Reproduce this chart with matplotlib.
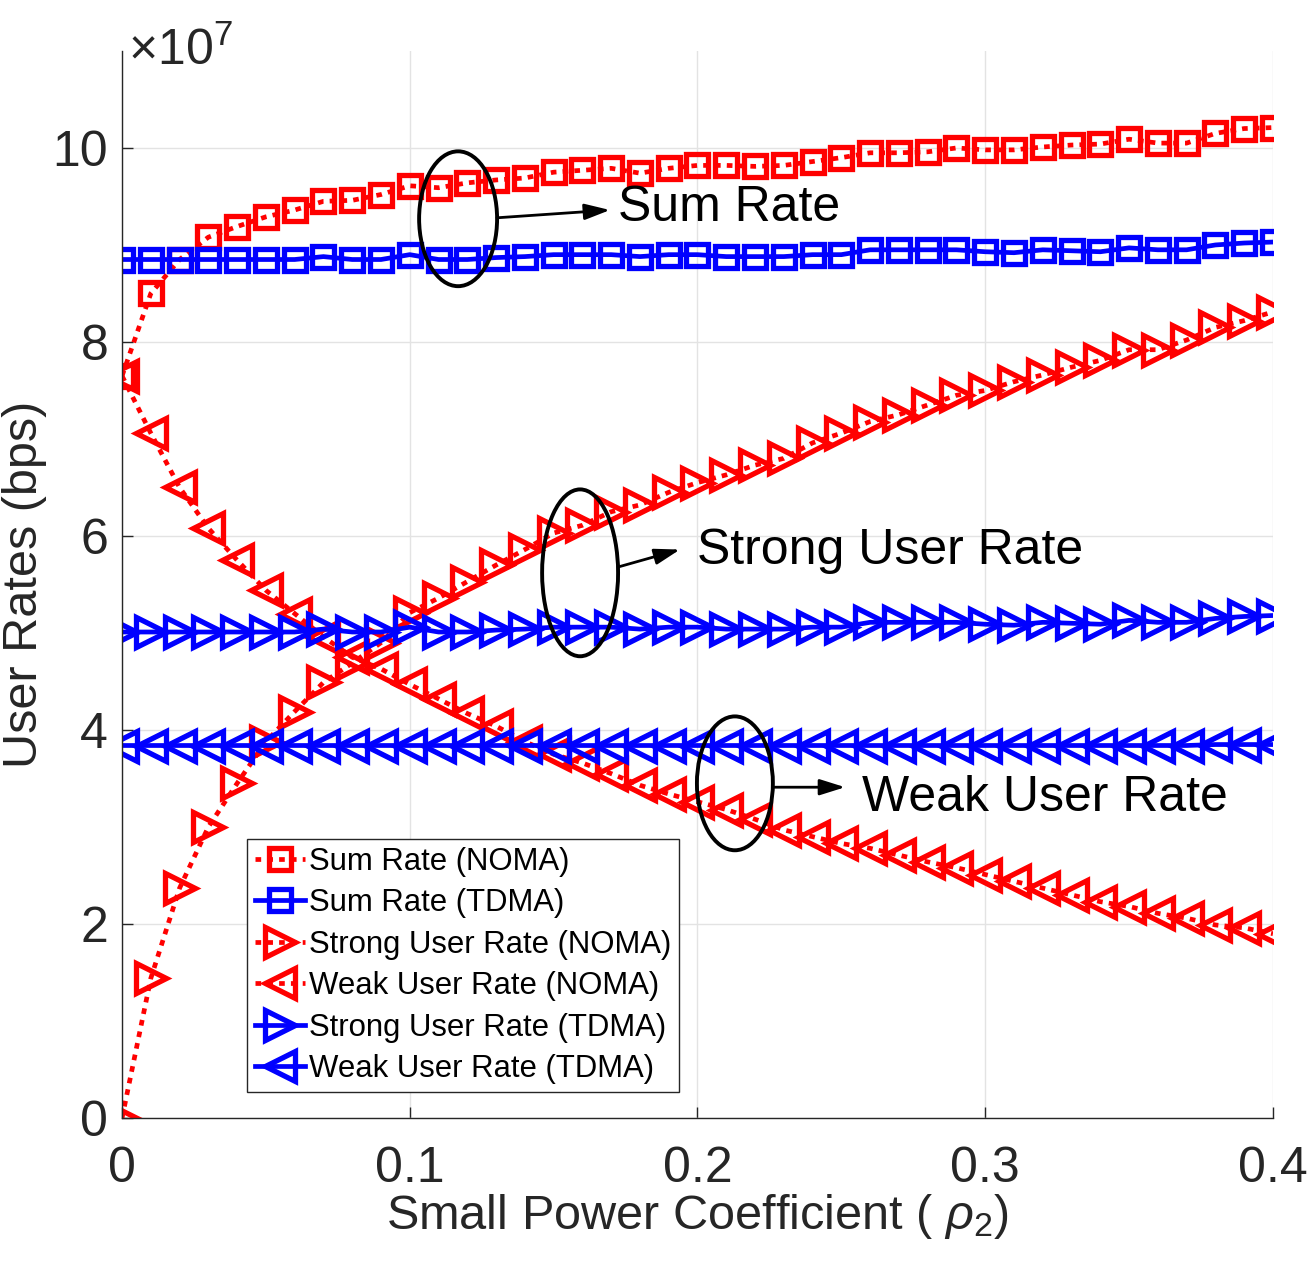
import numpy as np
import matplotlib
matplotlib.use("Agg")
import matplotlib.pyplot as plt
from matplotlib.patches import Ellipse

plt.rcParams["font.family"] = ["Liberation Sans", "DejaVu Sans"]
plt.rcParams["mathtext.fontset"] = "custom"
plt.rcParams["mathtext.rm"] = "Liberation Sans"
plt.rcParams["mathtext.it"] = "Liberation Sans:italic"

# x grid: small power coefficient rho_2
rho2 = [0.00, 0.01, 0.02, 0.03, 0.04, 0.05, 0.06, 0.07, 0.08, 0.09,
        0.10, 0.11, 0.12, 0.13, 0.14, 0.15, 0.16, 0.17, 0.18, 0.19,
        0.20, 0.21, 0.22, 0.23, 0.24, 0.25, 0.26, 0.27, 0.28, 0.29,
        0.30, 0.31, 0.32, 0.33, 0.34, 0.35, 0.36, 0.37, 0.38, 0.39, 0.40]

# rates in units of 1e7 bps
sum_noma = [7.65, 8.50, 8.85, 9.08, 9.19, 9.29, 9.36, 9.45, 9.46, 9.52,
            9.61, 9.59, 9.64, 9.67, 9.69, 9.75, 9.77, 9.79, 9.74, 9.79,
            9.82, 9.82, 9.81, 9.82, 9.86, 9.90, 9.95, 9.95, 9.96, 10.00,
            9.98, 9.98, 10.01, 10.03, 10.04, 10.09, 10.05, 10.05, 10.15, 10.20, 10.21]
sum_tdma = [8.85, 8.85, 8.85, 8.85, 8.85, 8.85, 8.85, 8.88, 8.85, 8.85,
            8.90, 8.85, 8.85, 8.87, 8.88, 8.90, 8.90, 8.90, 8.88, 8.90,
            8.90, 8.88, 8.88, 8.88, 8.90, 8.90, 8.95, 8.95, 8.95, 8.95,
            8.93, 8.92, 8.95, 8.94, 8.93, 8.97, 8.95, 8.95, 9.00, 9.02, 9.03]
strong_noma = [0.00, 1.44, 2.37, 3.00, 3.45, 3.88, 4.19, 4.49, 4.69, 4.90,
               5.21, 5.36, 5.53, 5.70, 5.86, 6.03, 6.11, 6.25, 6.32, 6.45,
               6.55, 6.63, 6.73, 6.80, 6.96, 7.06, 7.18, 7.25, 7.35, 7.45,
               7.50, 7.59, 7.66, 7.74, 7.81, 7.92, 7.92, 8.02, 8.15, 8.22, 8.31]
weak_noma = [7.65, 7.06, 6.50, 6.08, 5.75, 5.44, 5.20, 4.96, 4.75, 4.63,
             4.47, 4.32, 4.17, 4.04, 3.88, 3.75, 3.66, 3.55, 3.43, 3.34,
             3.26, 3.18, 3.08, 2.97, 2.90, 2.83, 2.78, 2.71, 2.64, 2.58,
             2.51, 2.44, 2.37, 2.30, 2.23, 2.18, 2.11, 2.06, 1.99, 1.96, 1.90]
strong_tdma = [5.01, 5.01, 5.01, 5.01, 5.01, 5.01, 5.01, 5.04, 5.01, 5.01,
               5.06, 5.01, 5.01, 5.03, 5.04, 5.06, 5.06, 5.06, 5.04, 5.06,
               5.06, 5.04, 5.04, 5.04, 5.06, 5.06, 5.11, 5.11, 5.11, 5.11,
               5.09, 5.08, 5.11, 5.10, 5.09, 5.13, 5.11, 5.11, 5.15, 5.17, 5.18]
weak_tdma = [3.84] * 38 + [3.85, 3.85, 3.85]

RED, BLUE = (1, 0, 0), (0, 0, 1)
DOT = (0, (1.2, 1.3))

fig = plt.figure(figsize=(13.08, 12.61), dpi=100)
ax = fig.add_axes([0.0933, 0.1134, 0.8799, 0.8462])

common = dict(markerfacecolor="none", markeredgewidth=3.8, lw=3.4)
SQ, TRI = 16.5, 22
ax.plot(rho2, sum_noma, ls=DOT, color=RED, marker="s", ms=SQ,
        label="Sum Rate (NOMA)", **common)
ax.plot(rho2, sum_tdma, ls="-", color=BLUE, marker="s", ms=SQ,
        label="Sum Rate (TDMA)", **common)
ax.plot(rho2, strong_noma, ls=DOT, color=RED, marker=">", ms=TRI,
        label="Strong User Rate (NOMA)", **common)
ax.plot(rho2, weak_noma, ls=DOT, color=RED, marker="<", ms=TRI,
        label="Weak User Rate (NOMA)", **common)
ax.plot(rho2, strong_tdma, ls="-", color=BLUE, marker=">", ms=TRI,
        label="Strong User Rate (TDMA)", **common)
ax.plot(rho2, weak_tdma, ls="-", color=BLUE, marker="<", ms=TRI,
        label="Weak User Rate (TDMA)", **common)

ax.set_xlim(0, 0.4)
ax.set_ylim(0, 11)
ax.set_xticks([0, 0.1, 0.2, 0.3, 0.4])
ax.set_xticklabels(["0", "0.1", "0.2", "0.3", "0.4"])
ax.set_yticks([0, 2, 4, 6, 8, 10])
ax.set_yticklabels(["0", "2", "4", "6", "8", "10"])
ax.grid(True, color="#e3e3e3", lw=1)
ax.set_axisbelow(True)
for s in ("top", "right"):
    ax.spines[s].set_visible(False)
for s in ("left", "bottom"):
    ax.spines[s].set_color("#262626")
    ax.spines[s].set_linewidth(1)
ax.tick_params(direction="in", length=8, width=1, colors="#262626",
               labelsize=36)
ax.tick_params(axis="x", pad=20)
ax.tick_params(axis="y", pad=10)
ax.text(0.005, 0.987, r"$\times$10$^{7}$", transform=ax.transAxes,
        fontsize=36, color="#262626", ha="left", va="baseline")

ax.set_xlabel(r"Small Power Coefficient ( $\rho_2$)", fontsize=35,
              color="#262626", labelpad=0)
ax.set_ylabel("User Rates (bps)", fontsize=35, color="#262626", labelpad=4)

# annotation ellipses + arrows
for (cx, cy, w, h), (x0, y0, x1, y1), (tx, ty, txt) in [
    ((0.1168, 9.27, 0.0271, 1.39), (0.1303, 9.28, 0.1696, 9.36), (0.1724, 9.38, "Sum Rate")),
    ((0.1592, 5.62, 0.0264, 1.72), (0.1724, 5.68, 0.1939, 5.86), (0.1998, 5.84, "Strong User Rate")),
    ((0.2130, 3.45, 0.0264, 1.38), (0.2262, 3.41, 0.2513, 3.41), (0.2572, 3.30, "Weak User Rate")),
]:
    ax.add_patch(Ellipse((cx, cy), w, h, fill=False, ec="k", lw=2.8, zorder=5))
    ax.annotate("", xy=(x1, y1), xytext=(x0, y0),
                arrowprops=dict(arrowstyle="-|>,head_length=0.7,head_width=0.22",
                                color="k", lw=2, mutation_scale=22,
                                shrinkA=0, shrinkB=0), zorder=5)
    ax.text(tx, ty, txt, fontsize=36, color="k", ha="left", va="center", zorder=5)

leg = ax.legend(loc="lower left", bbox_to_anchor=(0.1086, 0.0244),
                borderaxespad=0, fontsize=22.4, handlelength=1.6,
                handletextpad=0.15, labelspacing=0.37, borderpad=0.25,
                fancybox=False, edgecolor="#262626", framealpha=1)
leg.get_frame().set_linewidth(1)

fig.savefig("out.png", dpi=100)
